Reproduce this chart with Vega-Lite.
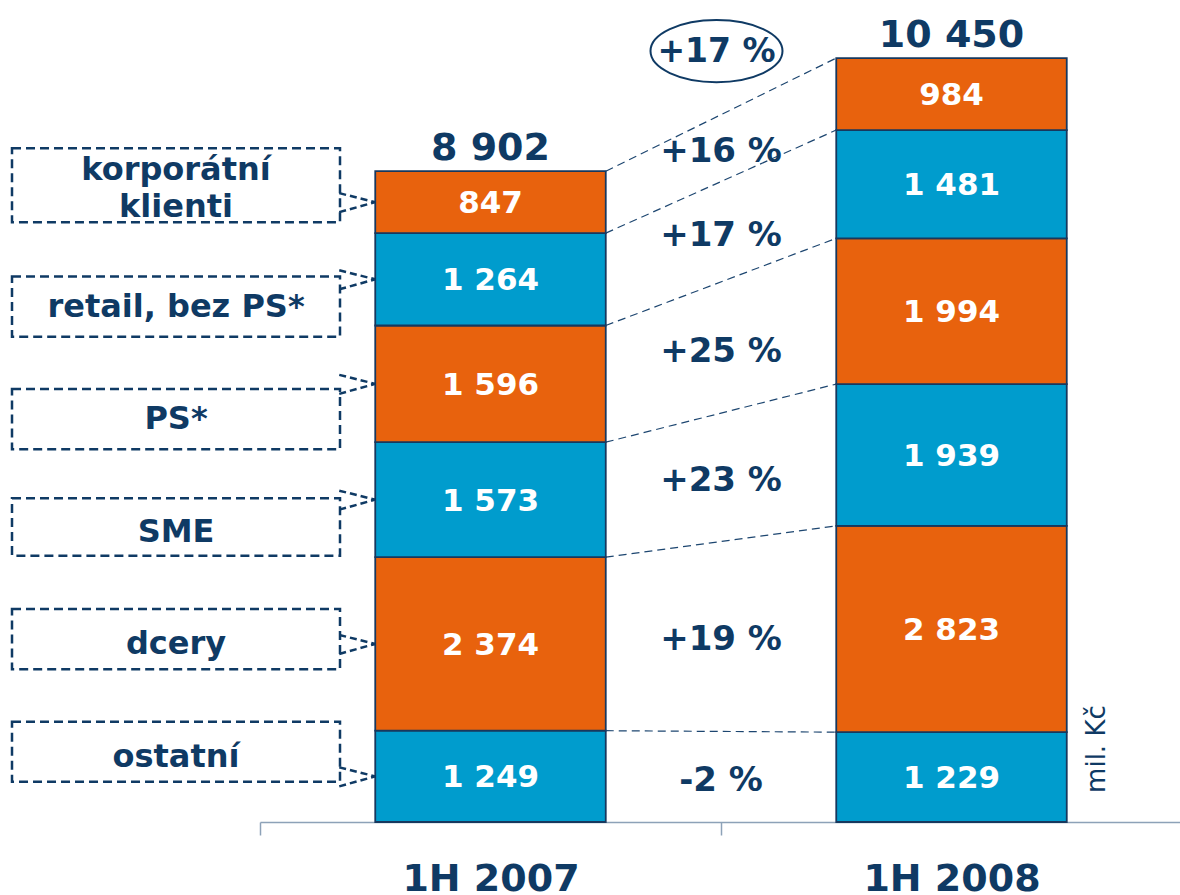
{
  "$schema": "https://vega.github.io/schema/vega-lite/v6.json",
  "width": 1180,
  "height": 822,
  "autosize": {"type": "none"},
  "padding": {"left": 0, "top": 0, "right": 0, "bottom": 73},
  "background": "white",
  "config": {"view": {"stroke": null}, "font": "DejaVu Sans"},
  "datasets": {
    "segs": [
      {"period": "1H 2007", "segment": "ostatní", "value": 1249},
      {"period": "1H 2007", "segment": "dcery", "value": 2374},
      {"period": "1H 2007", "segment": "SME", "value": 1573},
      {"period": "1H 2007", "segment": "PS*", "value": 1596},
      {"period": "1H 2007", "segment": "retail, bez PS*", "value": 1264},
      {"period": "1H 2007", "segment": "korporátní\nklienti", "value": 847},
      {"period": "1H 2008", "segment": "ostatní", "value": 1229},
      {"period": "1H 2008", "segment": "dcery", "value": 2823},
      {"period": "1H 2008", "segment": "SME", "value": 1939},
      {"period": "1H 2008", "segment": "PS*", "value": 1994},
      {"period": "1H 2008", "segment": "retail, bez PS*", "value": 1481},
      {"period": "1H 2008", "segment": "korporátní\nklienti", "value": 984}
    ],
    "totals": [
      {"period": "1H 2007", "total": 8902},
      {"period": "1H 2008", "total": 10450, "change": "+17 %"}
    ],
    "changes": [
      {"segment": "korporátní\nklienti", "change": "+16 %"},
      {"segment": "retail, bez PS*", "change": "+17 %"},
      {"segment": "PS*", "change": "+25 %"},
      {"segment": "SME", "change": "+23 %"},
      {"segment": "dcery", "change": "+19 %"},
      {"segment": "ostatní", "change": "-2 %"}
    ]
  },
  "layer": [
    {
      "layer": [
        {
          "data": {"name": "segs"},
          "transform": [
            {"stack": "value", "groupby": ["period"], "as": ["v0", "v1"]}
          ],
          "mark": {"type": "bar", "stroke": "#17385e", "strokeWidth": 1.8},
          "encoding": {
            "x": {
              "field": "period", "type": "nominal",
              "scale": {"type": "band", "domain": ["1H 2007", "1H 2008"], "range": [260, 1182], "paddingInner": 0.5, "paddingOuter": 0.25},
              "axis": {
                "title": null, "labelAngle": 0,
                "domainColor": "#8da2b8", "domainWidth": 1.5,
                "tickColor": "#8da2b8", "tickWidth": 1.5, "tickSize": 13,
                "tickOffset": -230.5, "labelOffset": 230.5,
                "labelFont": "DejaVu Sans", "labelFontSize": 38, "labelFontWeight": "bold",
                "labelColor": "#0f3a64", "labelPadding": 25
              }
            },
            "y": {"field": "v0", "type": "quantitative", "scale": {"domain": [0, 11245], "nice": false, "zero": true}, "axis": null},
            "y2": {"field": "v1"},
            "color": {
              "field": "segment", "type": "nominal",
              "scale": {
                "domain": ["korporátní\nklienti", "retail, bez PS*", "PS*", "SME", "dcery", "ostatní"],
                "range": ["#e8620d", "#009ccd", "#e8620d", "#009ccd", "#e8620d", "#009ccd"]
              },
              "legend": null
            }
          }
        },
        {
          "data": {"name": "segs"},
          "transform": [
            {"stack": "value", "groupby": ["period"], "as": ["v0", "v1"]},
            {"calculate": "(datum.v0 + datum.v1) / 2", "as": "mid"},
            {"calculate": "replace(format(datum.value, ','), ',', ' ')", "as": "lbl"}
          ],
          "mark": {"type": "text", "color": "white", "fontSize": 31, "fontWeight": "bold", "baseline": "middle", "dy": 2},
          "encoding": {
            "x": {"field": "period", "type": "nominal"},
            "y": {"field": "mid", "type": "quantitative"},
            "text": {"field": "lbl"}
          }
        },
        {
          "data": {"name": "segs"},
          "transform": [
            {"stack": "value", "groupby": ["period"], "as": ["v0", "v1"]},
            {"pivot": "period", "value": "v1", "groupby": ["segment"]}
          ],
          "mark": {"type": "rule", "color": "#1d4670", "strokeWidth": 1.2, "strokeDash": [8, 5], "xOffset": 115.25, "x2Offset": -115.25},
          "encoding": {
            "x": {"datum": "1H 2007", "type": "nominal"},
            "x2": {"datum": "1H 2008"},
            "y": {"field": "1H 2007", "type": "quantitative"},
            "y2": {"field": "1H 2008"}
          }
        },
        {
          "data": {"name": "segs"},
          "transform": [
            {"stack": "value", "groupby": ["period"], "as": ["v0", "v1"]},
            {"calculate": "(datum.v0 + datum.v1) / 2", "as": "mid"},
            {"pivot": "period", "value": "mid", "groupby": ["segment"]},
            {"calculate": "(datum['1H 2007'] + datum['1H 2008']) / 2", "as": "pm"},
            {"lookup": "segment", "from": {"data": {"name": "changes"}, "key": "segment", "fields": ["change"]}}
          ],
          "mark": {"type": "text", "color": "#0f3a64", "fontSize": 34, "fontWeight": "bold", "baseline": "middle", "xOffset": 230.5, "dy": 4},
          "encoding": {
            "x": {"datum": "1H 2007", "type": "nominal"},
            "y": {"field": "pm", "type": "quantitative"},
            "text": {"field": "change"}
          }
        },
        {
          "data": {"name": "totals"},
          "transform": [
            {"calculate": "replace(format(datum.total, ','), ',', ' ')", "as": "lbl"}
          ],
          "mark": {"type": "text", "color": "#0f3a64", "fontSize": 38, "fontWeight": "bold", "baseline": "alphabetic", "dy": -11},
          "encoding": {
            "x": {"field": "period", "type": "nominal"},
            "y": {"field": "total", "type": "quantitative"},
            "text": {"field": "lbl"}
          }
        },
        {
          "data": {"name": "totals"},
          "transform": [{"filter": "datum.change"}],
          "mark": {"type": "point", "shape": "M-1,0A1,0.47,0,1,1,1,0A1,0.47,0,1,1,-1,0Z", "size": 17424, "filled": false, "color": "#0f3a64", "strokeWidth": 2, "opacity": 1, "xOffset": -235, "yOffset": -7},
          "encoding": {
            "x": {"field": "period", "type": "nominal"},
            "y": {"field": "total", "type": "quantitative"}
          }
        },
        {
          "data": {"name": "totals"},
          "transform": [{"filter": "datum.change"}],
          "mark": {"type": "text", "color": "#0f3a64", "fontSize": 33, "fontWeight": "bold", "baseline": "middle", "xOffset": -235, "yOffset": -6},
          "encoding": {
            "x": {"field": "period", "type": "nominal"},
            "y": {"field": "total", "type": "quantitative"},
            "text": {"field": "change"}
          }
        },
        {
          "data": {"name": "segs"},
          "transform": [
            {"stack": "value", "groupby": ["period"], "as": ["v0", "v1"]},
            {"calculate": "(datum.v0 + datum.v1) / 2", "as": "mid"},
            {"filter": "datum.period == '1H 2007'"}
          ],
          "mark": {"type": "rule", "color": "#0f3a64", "strokeWidth": 2.5, "strokeDash": [7, 4], "xOffset": -151.25, "x2Offset": -115.25, "yOffset": -9, "y2Offset": 0},
          "encoding": {
            "x": {"field": "period", "type": "nominal"},
            "x2": {"field": "period"},
            "y": {"field": "mid", "type": "quantitative"},
            "y2": {"field": "mid"}
          }
        },
        {
          "data": {"name": "segs"},
          "transform": [
            {"stack": "value", "groupby": ["period"], "as": ["v0", "v1"]},
            {"calculate": "(datum.v0 + datum.v1) / 2", "as": "mid"},
            {"filter": "datum.period == '1H 2007'"}
          ],
          "mark": {"type": "rule", "color": "#0f3a64", "strokeWidth": 2.5, "strokeDash": [7, 4], "xOffset": -151.25, "x2Offset": -115.25, "yOffset": 10, "y2Offset": 0},
          "encoding": {
            "x": {"field": "period", "type": "nominal"},
            "x2": {"field": "period"},
            "y": {"field": "mid", "type": "quantitative"},
            "y2": {"field": "mid"}
          }
        },
        {
          "data": {"name": "segs"},
          "transform": [
            {"stack": "value", "groupby": ["period"], "as": ["v0", "v1"]},
            {"calculate": "(datum.v0 + datum.v1) / 2", "as": "mid"},
            {"filter": "datum.period == '1H 2008' && datum.segment == 'ostatní'"}
          ],
          "mark": {"type": "text", "color": "#0f3a64", "fontSize": 26, "angle": 270, "baseline": "middle", "xOffset": 145, "yOffset": -28},
          "encoding": {
            "x": {"field": "period", "type": "nominal"},
            "y": {"field": "mid", "type": "quantitative"},
            "text": {"value": "mil. Kč"}
          }
        }
      ]
    },
    {
      "data": {"name": "changes"},
      "layer": [
        {
          "mark": {"type": "point", "filled": false, "color": "#0f3a64", "strokeWidth": 2.5, "strokeDash": [9, 5], "opacity": 1, "size": 107584},
          "encoding": {
            "x": {"datum": "L", "type": "nominal", "scale": {"type": "band", "domain": ["L"], "range": [12, 340], "paddingInner": 0, "paddingOuter": 0}, "axis": null},
            "y": {
              "field": "segment", "type": "nominal",
              "scale": {"type": "band", "domain": ["korporátní\nklienti", "retail, bez PS*", "PS*", "SME", "dcery", "ostatní"], "range": [134, 809], "paddingInner": 0.47, "paddingOuter": 0.235},
              "axis": null
            },
            "shape": {
              "field": "segment", "type": "nominal",
              "scale": {
                "domain": ["korporátní\nklienti", "retail, bez PS*", "PS*", "SME", "dcery", "ostatní"],
                "range": ["M-1,-0.256H1V0.195H-1Z", "M-1,-0.16H1V0.207H-1Z", "M-1,-0.16H1V0.207H-1Z", "M-1,-0.18H1V0.17H-1Z", "M-1,-0.19H1V0.177H-1Z", "M-1,-0.189H1V0.177H-1Z"]
              },
              "legend": null
            }
          }
        },
        {
          "transform": [{"filter": "datum.segment != 'korporátní\\nklienti'"}],
          "mark": {"type": "text", "color": "#0f3a64", "fontSize": 32, "fontWeight": "bold", "baseline": "middle", "dy": 4},
          "encoding": {
            "x": {"datum": "L", "type": "nominal"},
            "y": {"field": "segment", "type": "nominal"},
            "text": {"field": "segment"}
          }
        },
        {
          "transform": [{"filter": "datum.segment == 'korporátní\\nklienti'"}],
          "mark": {"type": "text", "color": "#0f3a64", "fontSize": 32, "fontWeight": "bold", "baseline": "middle", "lineBreak": "\n", "lineHeight": 37, "dy": -20},
          "encoding": {
            "x": {"datum": "L", "type": "nominal"},
            "y": {"field": "segment", "type": "nominal"},
            "text": {"field": "segment"}
          }
        }
      ]
    }
  ],
  "resolve": {"scale": {"x": "independent", "y": "independent"}}
}
